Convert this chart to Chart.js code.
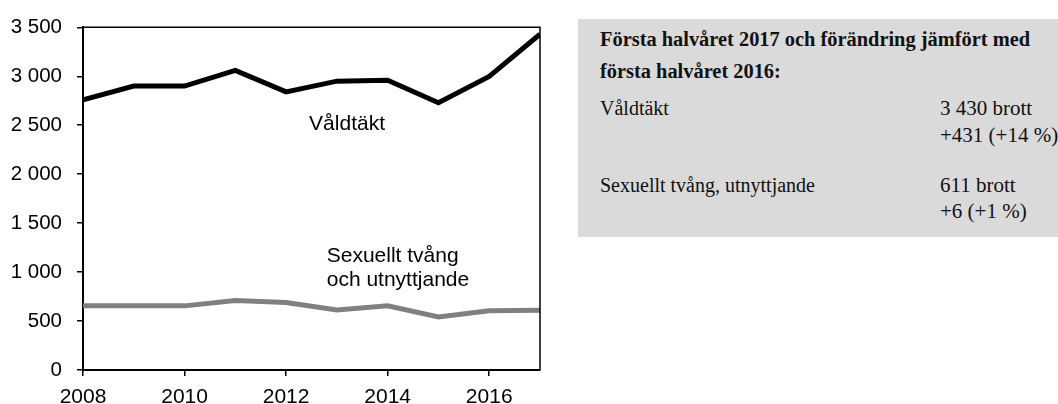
<!DOCTYPE html>
<html>
<head>
<meta charset="utf-8">
<script src="https://cdn.jsdelivr.net/npm/chart.js@4"></script>
<style>
  html, body { margin: 0; padding: 0; background: #fff; }
  body { width: 1058px; height: 404px; position: relative; overflow: hidden; }
  #wrap { position: absolute; left: 0; top: 0; width: 560px; height: 404px; }
  #info {
    position: absolute; left: 578px; top: 19px; width: 480px; height: 218px;
    background: #dadada; font-family: "Liberation Serif", "DejaVu Serif", serif;
    font-size: 20px; color: #111; white-space: nowrap; overflow: hidden;
  }
  #info div { position: absolute; line-height: 24px; }
  #info .t { font-weight: bold; left: 22px; font-size: 20.4px; }
  #info .v { left: 362px; font-size: 21px; }
</style>
</head>
<body>
<div id="wrap"><canvas id="crimeChart" width="560" height="404"></canvas></div>
<div id="info">
  <div class="t" style="top:8px">Första halvåret 2017 och förändring jämfört med</div>
  <div class="t" style="top:40px">första halvåret 2016:</div>
  <div style="left:22px;top:77px">Våldtäkt</div>
  <div class="v" style="top:77px">3 430 brott</div>
  <div class="v" style="top:104px">+431 (+14 %)</div>
  <div style="left:22px;top:154px">Sexuellt tvång, utnyttjande</div>
  <div class="v" style="top:154px">611 brott</div>
  <div class="v" style="top:180px">+6 (+1 %)</div>
</div>
<script>
const years = [2008, 2009, 2010, 2011, 2012, 2013, 2014, 2015, 2016, 2017];
const valdtakt = [2760, 2900, 2900, 3060, 2840, 2950, 2960, 2730, 2999, 3430];
const sexuelltTvang = [655, 657, 655, 709, 690, 612, 656, 542, 605, 611];
const xTicks = [2008, 2010, 2012, 2014, 2016];
const yMax = 3500;
const yStep = 500;

function fmt(v) {
  return String(v).replace(/\B(?=(\d{3})+(?!\d))/g, " ");
}

// text labels placed in data coordinates
const notes = [
  { lines: ["Våldtäkt"], x: 2013.2, y: 2513, align: "center" },
  { lines: ["Sexuellt tvång", "och utnyttjande"], x: 2012.8, y: 1165, align: "left" },
];

const framePlugin = {
  id: "frame",
  afterDatasetsDraw(chart) {
    const { ctx, chartArea: a, scales } = chart;
    ctx.save();
    ctx.strokeStyle = "#000";
    ctx.lineWidth = 1.5;
    ctx.beginPath();
    ctx.moveTo(a.left, a.top);
    ctx.lineTo(a.right, a.top);
    ctx.lineTo(a.right, a.bottom);
    ctx.stroke();

    ctx.fillStyle = "#000";
    ctx.font = "21px 'Liberation Sans', Arial, sans-serif";
    ctx.textBaseline = "middle";
    notes.forEach(n => {
      ctx.textAlign = n.align;
      const px = scales.x.getPixelForValue(n.x);
      const py = scales.y.getPixelForValue(n.y);
      n.lines.forEach((s, i) => ctx.fillText(s, px, py + i * 24));
    });
    ctx.restore();
  }
};

const ctx = document.getElementById("crimeChart").getContext("2d");
new Chart(ctx, {
  type: "line",
  data: {
    datasets: [
      {
        label: "Våldtäkt",
        data: years.map((y, i) => ({ x: y, y: valdtakt[i] })),
        borderColor: "#000",
        borderWidth: 5,
        pointRadius: 0,
        tension: 0,
      },
      {
        label: "Sexuellt tvång och utnyttjande",
        data: years.map((y, i) => ({ x: y, y: sexuelltTvang[i] })),
        borderColor: "#808080",
        borderWidth: 5,
        pointRadius: 0,
        tension: 0,
      },
    ],
  },
  options: {
    responsive: false,
    animation: false,
    layout: { padding: { left: 0, right: 20, top: 26, bottom: 0 } },
    plugins: { legend: { display: false }, tooltip: { enabled: false } },
    scales: {
      x: {
        type: "linear",
        min: years[0],
        max: years[years.length - 1],
        afterBuildTicks: s => { s.ticks = xTicks.map(v => ({ value: v })); },
        afterFit: s => { s.height = 34; },
        border: { color: "#000", width: 2 },
        grid: { drawOnChartArea: false, drawTicks: true, tickLength: 6, color: "#000", lineWidth: 1.5 },
        ticks: {
          color: "#000", padding: 9, maxRotation: 0,
          font: { family: "'Liberation Sans', Arial, sans-serif", size: 21 },
          callback: v => String(v),
        },
      },
      y: {
        min: 0,
        max: yMax,
        afterFit: s => { s.width = 83; },
        border: { color: "#000", width: 2 },
        grid: { drawOnChartArea: false, drawTicks: true, tickLength: 6, color: "#000", lineWidth: 1.5 },
        ticks: {
          stepSize: yStep, color: "#000", padding: 15,
          font: { family: "'Liberation Sans', Arial, sans-serif", size: 20.5 },
          callback: v => fmt(v),
        },
      },
    },
  },
  plugins: [framePlugin],
});
</script>
</body>
</html>
